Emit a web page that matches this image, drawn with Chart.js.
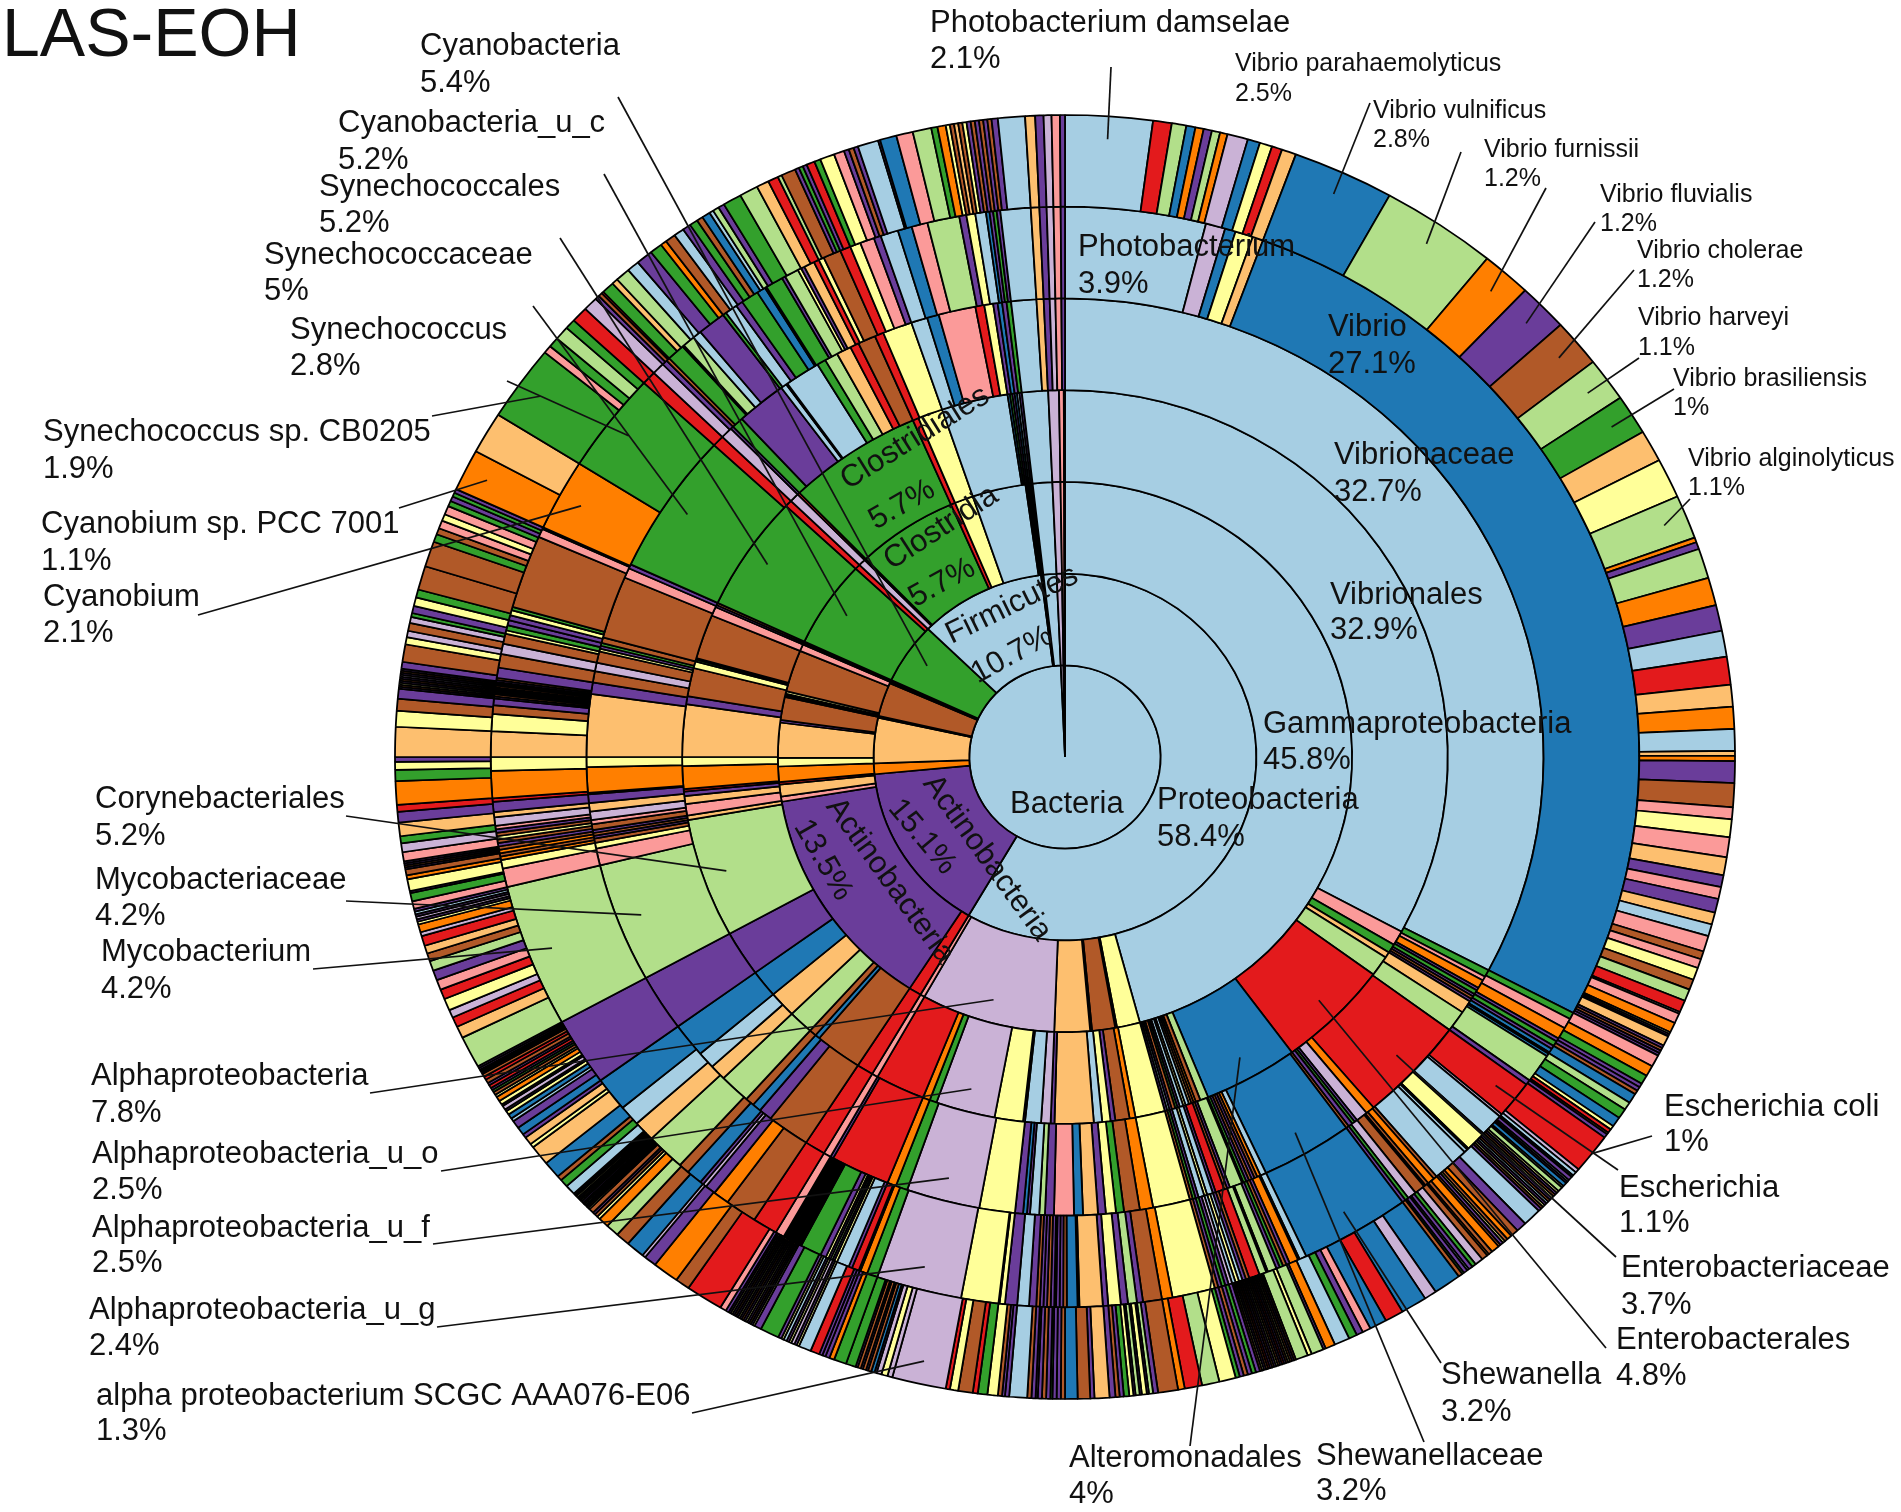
<!DOCTYPE html>
<html>
<head>
<meta charset="utf-8">
<title>LAS-EOH</title>
<script src="https://cdn.jsdelivr.net/npm/chart.js@4"></script>
<style>
  html, body { margin: 0; background: #fff; }
  canvas { display: block; }
</style>
</head>
<body>
<canvas id="sunburst" width="1901" height="1512"></canvas>
<script>
// percent of reads per slice, clockwise from the top, one list per taxonomic rank
const rootValues = [99.3, 0.45, 0.25];
const rootColors = 'alp';

const phylumValues = [58.4, 15.1, 0.95, 4, 0.05, 0.05, 0.05, 3, 0.15, 0.05, 0.1, 5.4, 10.7, 0.05, 0.05, 0.05, 0.05, 1.1, 0.45, 0.2, 0.05];
const phylumColors = 'aPOoPyPBpPBGabPGPalpP';

const classValues = [
  45.8, 1.3, 0.1, 1.3, 0.1, 2, 7.55, 0.25, 0.7, 13.3, 0.3, 0.7, 0.15, 0.9, 0.5, 2.05, 0.15, 1.35,
  0.1, 0.1, 0.15, 2.45, 0.4, 0.05, 0.05, 0.1, 5.1, 0.3, 0.4, 0.1, 5.7, 0.25, 1.05, 3,
  0.1, 0.1, 0.1, 0.1, 1.1, 0.45, 0.2, 0.05
];
const classColors =
  'ayOByolprPporOyoPB' +
  'yGyBpGPPGrlrGrya' +
  'bPGPalpP';

const orderValues = [
  32.9, 0.65, 0.4, 0.25, 0.9, 4.8, 4, 0.35, 0.2, 0.1, 0.1, 0.1, 0.15, 0.1, 0.15, 0.1, 0.1, 0.15, 0.1, 0.1, 0.1,
  1.25, 0.25, 0.6, 0.2, 0.35, 0.35, 1.64, 0.16,
  0.4, 0.67, 0.08, 1.2, 2.5, 0.3, 0.3, 2.1, 0.25, 0.7, 2, 0.2, 0.3, 1.05, 1.15, 1.2, 2, 5.25,
  0.2, 0.5, 0.35, 0.2, 0.1, 1, 0.4, 2.3, 0.35, 1.25, 0.3, 0.08, 0.07, 1.95, 0.4, 0.1, 0.1,
  5.1, 0.3, 0.4, 0.1, 5.7, 0.25, 1.05, 2.8, 0.1, 0.1, 0.1, 0.1, 0.1, 0.1, 1.1, 0.45, 0.2, 0.05
];
const orderColors =
  'apGogrbgBOBoayaPGBPaP' +
  'yOBPyaoP' +
  'laPylGOrprBbBgobPg' +
  'opoPrOyoPByGPBpPB' +
  'GrlrGryabGPbaPalpP';

const familyValues = [
  32.7, 0.25, 0.15, 0.3, 0.1, 0.15, 0.1, 0.1, 0.1, 0.45, 0.75, 3.7, 0.3, 0.4, 0.1, 0.1, 0.15, 0.1,
  3.1, 0.2, 0.12, 0.1, 0.1, 0.1, 0.1, 0.1, 0.05, 0.43, 0.1, 0.1, 0.3, 0.1, 0.2, 0.1, 0.2, 0.1, 0.1, 0.1,
  1.25, 0.45, 0.53, 0.27, 0.34, 0.26, 0.5, 0.3, 0.67, 0.3, 0.19, 0.31, 0.1, 0.13, 0.27, 1.2, 2.48,
  0.4, 0.3, 2, 0.1, 0.25, 0.7, 1.45, 0.45, 0.3, 0.3, 1.05, 0.55, 0.6, 1.2, 2, 4.2,
  0.6, 0.2, 0.15, 0.1, 0.1, 0.1, 0.2, 0.15, 0.3, 0.3, 0.3, 0.05, 0.9, 0.35, 2.2, 0.4, 0.4, 0.3, 0.4,
  0.1, 0.1, 0.1, 0.2, 2.2, 0.35, 0.15,
  5, 0.4, 0.4, 0.1, 0.4, 1.7, 0.2, 0.05, 1.2, 0.3, 0.45, 0.5, 0.3, 0.6, 0.3, 1, 0.55, 0.4, 1.25, 0.3, 0.3,
  0.15, 0.15, 0.15, 0.15, 0.85, 0.24, 0.2, 0.19, 0.2, 0.12
];
const familyColors =
  'aGpOPGPBPogrOlPGPB' +
  'baOBPBPGPgPBrPayaPGB' +
  'yOBGyPobpPgaPbPyl' +
  'GOrPprBPbBgoabPg' +
  'pyBPBPBploPrOyoPBlB' +
  'yPGBBpP' +
  'GrlPGPayaGgorBryabpry' +
  'PbPGaoPlpP';

const genusValues = [
  3.95, 0.55, 0.3, 0.5, 0.3, 27.1,
  0.2, 0.3, 0.35, 0.1, 0.15, 0.1, 0.12, 0.05, 0.08, 0.85, 0.15, 1.1,
  0.08, 0.67, 0.05, 0.55, 0.05, 0.1, 1.05,
  0.1, 0.2, 0.1, 0.05, 0.3, 0.25, 0.1, 0.1,
  3.1, 0.2, 0.05, 0.25, 0.1, 0.1, 0.1, 0.1, 0.25, 0.05, 0.2, 0.3,
  0.1, 0.1, 0.1, 0.1, 0.1, 0.1, 0.1, 0.1, 0.1, 0.1,
  1.2, 0.3, 0.53, 0.17, 0.25, 0.2, 0.35, 0.15, 0.65, 0.05, 0.3, 0.1, 0.1, 0.1, 0.05,
  0.1, 0.1, 0.1, 0.1, 0.1, 0.2, 0.33, 0.34, 0.15, 0.03, 1.05, 2.4,
  0.3, 0.2, 0.05, 0.2, 0.1, 0.35, 0.08, 0.06, 0.06, 0.06, 0.08, 0.16, 0.6,
  0.05, 0.05, 0.05, 0.05, 0.05, 0.05, 0.05, 0.05, 0.05, 0.05, 0.05,
  0.25, 0.7, 0.9, 0.45, 0.3, 0.1, 0.1, 0.45, 0.3, 1.1, 0.6, 0.6, 1, 2, 4.2,
  0.55, 0.25, 0.1, 0.1, 0.1, 0.1, 0.1, 0.1, 0.1, 0.1, 0.1, 0.1, 0.25, 0.15, 0.3, 0.1, 0.8, 0.4, 0.75, 0.5, 0.25, 0.2,
  0.06, 0.06, 0.05, 0.05, 0.05, 0.05, 0.06, 0.05, 0.05, 0.06, 0.06,
  0.3, 0.4, 0.3, 0.3, 0.1, 0.15, 0.15, 0.15, 0.15, 0.1, 2.15, 0.25, 0.05,
  2.1, 2.95, 0.4,
  0.35, 0.15, 0.1, 0.5, 0.05, 0.35, 0.25, 0.8, 0.1, 0.35, 0.2, 0.5, 0.25, 0.05, 0.5, 0.1, 0.4, 0.1, 0.1,
  0.3, 0.15, 0.15, 0.5, 0.3, 0.3, 0.4, 0.2, 0.5, 0.4, 0.45, 0.9, 0.2, 0.25, 0.3, 0.1, 0.1, 0.1, 0.1,
  0.85, 0.24, 0.2, 0.19, 0.2, 0.12
];
const genusColors =
  'albyob' +
  'GpOPGPbybgPr' +
  'laPyPaa' +
  'BOBPBlGP' +
  'baPOPBGPgPgr' +
  'BPayalPGPB' +
  'yOBPgPyPoPbBPPG' +
  'PBPPBPaPyPyl' +
  'GOPrPayPgPyPG' +
  'PBPBPBPBPyP' +
  'prBOPlPbBgoabPg' +
  'pyOBOBPByBPploPrOyoyBP' +
  'PBPGPPBPPPB' +
  'PBlByGPPyGBpP' +
  'OGr' +
  'lPBGygaPGaPGbaGPgyP' +
  'oryBrypPabpgPyabPGP' +
  'aoPlpP';

const speciesValues = [
  2.1, 0.45, 0.35, 0.22, 0.2, 0.2, 0.2, 0.18, 0.5, 0.3, 0.3, 0.25, 0.35,
  2.45, 2.8, 1.2, 1.2, 1.2, 1.1, 1, 0.8, 1, 1.1,
  0.12, 0.18, 0.75, 0.7, 0.65, 0.65, 0.7, 0.55, 0.55, 0.55, 0.12, 0.13, 0.55, 0.6,
  0.3, 0.45, 0.5, 0.45, 0.3, 0.3, 0.35, 0.3, 0.3, 0.4, 0.2, 0.23, 0.31, 0.26, 0.3, 0.3, 0.05, 0.25, 0.25,
  0.05, 0.05, 0.02, 0.25, 0.07, 0.07, 0.07, 0.07,
  0.3, 0.27, 0.23, 0.1, 0.1, 0.1, 0.25, 0.2, 0.25, 0.25, 0.1, 0.1, 0.05, 0.1, 1,
  0.1, 0.1, 0.05, 0.1, 0.05, 0.05, 0.1, 0.05,
  0.12, 0.06, 0.06, 0.06, 0.06, 0.06, 0.06, 0.06, 0.06, 0.06, 0.06, 0.08,
  0.45, 0.25, 0.2, 0.12, 0.08, 0.06, 0.08, 0.06,
  0.2, 0.1, 0.05, 0.15, 0.2, 0.1, 0.1, 0.05, 0.1, 0.05, 0.1,
  0.67, 0.3, 0.63, 0.45, 0.42, 0.2, 0.16, 0.2, 0.37, 0.24, 0.06, 0.3, 0.1, 0.3,
  0.05, 0.05, 0.05, 0.05, 0.05, 0.05, 0.05, 0.05, 0.05, 0.05, 0.05, 0.05, 0.05, 0.05, 0.05, 0.05, 0.05, 0.05,
  0.1, 0.1, 0.1, 0.1, 0.1, 0.1,
  0.4, 0.42, 0.42, 0.16, 0.48, 0.12, 0.1, 0.05, 0.12, 0.05, 0.1, 0.05, 0.1, 0.13,
  0.1, 0.1, 0.14, 0.36, 0.1, 0.3, 0.3, 0.1, 0.1, 0.1, 0.05, 0.1, 0.1, 0.1, 0.05, 0.1, 0.1,
  0.43, 0.1, 0.07, 0.1, 0.25, 0.23, 0.12, 0.35, 0.2, 0.1,
  1.3, 0.12, 0.15, 0.12, 0.05, 0.08, 0.08, 0.05, 0.08, 0.05, 0.08, 0.05, 0.24,
  0.3, 0.12, 0.1, 0.08, 0.08, 0.22, 0.3, 0.06, 0.06, 0.08, 0.06, 0.06, 0.08, 0.06, 0.08, 0.46, 0.17,
  0.05, 0.05, 0.05, 0.05, 0.05, 0.05, 0.05, 0.05, 0.05, 0.05, 0.05, 0.05, 0.05, 0.05,
  0.08, 0.15, 0.9, 0.35, 0.63, 0.3, 0.08, 0.45, 0.34,
  0.32, 0.25, 0.08, 0.08, 0.06, 0.12,
  0.045, 0.045, 0.045, 0.045, 0.045, 0.045, 0.045, 0.045, 0.045, 0.045, 0.045, 0.045,
  0.25, 0.2, 0.12, 0.43, 0.5, 0.1, 0.2, 0.1,
  0.2, 0.2, 0.08, 0.12, 0.1, 0.05, 0.1, 0.05, 0.1,
  0.12, 0.06, 0.08, 0.06, 0.06, 0.08, 0.06, 0.1, 0.08, 0.08, 0.04, 0.04, 0.04, 0.05, 0.05,
  0.8, 0.3, 0.25, 0.2, 0.3, 0.25, 0.25, 0.25, 0.25, 0.2, 0.2, 0.25, 0.1, 0.2,
  0.07, 0.06, 0.07, 0.06, 0.07, 0.07,
  0.19, 0.21, 0.05, 0.3, 0.1, 0.15, 0.05, 0.05, 0.05, 0.05, 0.23, 0.22, 0.18, 0.34, 0.27, 0.17,
  0.59, 0.28, 0.2, 0.12, 0.75, 0.4, 0.3, 0.25,
  0.05, 0.05, 0.05, 0.05, 0.05, 0.05, 0.05, 0.05, 0.05, 0.05,
  0.17, 0.44, 0.18, 0.16, 0.2, 0.15, 0.1, 0.18, 0.22, 0.2, 0.6, 0.64, 0.2, 0.16, 0.2, 0.17, 0.22, 0.14, 0.12, 0.1, 0.1,
  1.05, 1.05, 1.9, 0.2, 0.25, 0.35, 0.25, 0.4,
  0.35, 0.1, 0.1, 0.05, 0.3, 0.15, 0.35, 0.3, 0.4, 0.3, 0.15, 0.25, 0.25, 0.2, 0.2, 0.15, 0.2, 0.1, 0.15, 0.15, 0.45,
  0.45, 0.3, 0.25, 0.1, 0.35, 0.1, 0.1, 0.1, 0.2, 0.15, 0.35, 0.25, 0.12, 0.12, 0.11, 0.5, 0.05, 0.4, 0.4, 0.45, 0.15,
  0.2, 0.1, 0.1, 0.1, 0.1, 0.1, 0.1, 0.1, 0.1, 0.1, 0.1, 0.1, 0.15,
  0.65, 0.24, 0.2, 0.19, 0.2, 0.12
];
const speciesColors =
  'argbOPgOlbyro' +
  'bgOPBgGoyg' +
  'OPgOParoOaoOPB' +
  'pypoPpPoapBpyBgrlpO' +
  'yPaoPBPP' +
  'pOGPPBbgGbyrBPr' +
  'labPaPby' +
  'gyPByPBaPyBP' +
  'aPBOByPB' +
  'OBOBlGPaPGB' +
  'blbrbpPGaOPgyg' +
  'BPByBPrPByPBPrBPyB' +
  'PGPBPG' +
  'ygrOBPgPyPgPyG' +
  'PBPoPBbBPPGPBPPPB' +
  'aPPByGrByr' +
  'llylPbBPBPBPG' +
  'GOPPPrayPlyPayPGP' +
  'yPBPyPBPyPBPyP' +
  'PprBOPlbB' +
  'gOyBPB' +
  'yBPyBPyBPyBP' +
  'aGBboyoP' +
  'bPabyPlPy' +
  'OyBGPrPBrBPBPPP' +
  'gorlyrpPgBorlO' +
  'yPlPaP' +
  'pGPyOBPBPPplGoPr' +
  'OGyPoyBP' +
  'PByPBPlPBP' +
  'PBylBlGPyGBBGBpypGPGP' +
  'OoGpGgGr' +
  'lPBrGogaPGOBaPGBbagPG' +
  'gorgBPGPrGypPBPaPbpgG' +
  'OyBoByPBPBPBP' +
  'aoPlpP';

const palette = {
  a: '#a6cee3', b: '#1f78b4', g: '#b2df8a', G: '#33a02c', p: '#fb9a99', r: '#e31a1c',
  o: '#fdbf6f', O: '#ff7f00', l: '#cab2d6', P: '#6a3d9a', y: '#ffff99', B: '#b15928'
};

// outermost ring first, the library stacks rings in dataset order
const ringValues = [speciesValues, genusValues, familyValues, orderValues, classValues, phylumValues, rootValues];
const ringColors = [speciesColors, genusColors, familyColors, orderColors, classColors, phylumColors, rootColors];

// labels with a leader line
const labelNames = [
  'Photobacterium damselae', 'Vibrio parahaemolyticus', 'Vibrio vulnificus', 'Vibrio furnissii', 'Vibrio fluvialis',
  'Vibrio cholerae', 'Vibrio harveyi', 'Vibrio brasiliensis', 'Vibrio alginolyticus',
  'Cyanobacteria', 'Cyanobacteria_u_c', 'Synechococcales', 'Synechococcaceae', 'Synechococcus',
  'Synechococcus sp. CB0205', 'Cyanobium sp. PCC 7001', 'Cyanobium',
  'Corynebacteriales', 'Mycobacteriaceae', 'Mycobacterium',
  'Alphaproteobacteria', 'Alphaproteobacteria_u_o', 'Alphaproteobacteria_u_f', 'Alphaproteobacteria_u_g',
  'alpha proteobacterium SCGC AAA076-E06',
  'Alteromonadales', 'Shewanellaceae', 'Shewanella', 'Enterobacterales', 'Enterobacteriaceae', 'Escherichia', 'Escherichia coli'
];
const labelPercents = [
  '2.1%', '2.5%', '2.8%', '1.2%', '1.2%', '1.2%', '1.1%', '1%', '1.1%',
  '5.4%', '5.2%', '5.2%', '5%', '2.8%', '1.9%', '1.1%', '2.1%',
  '5.2%', '4.2%', '4.2%', '7.8%', '2.5%', '2.5%', '2.4%', '1.3%',
  '4%', '3.2%', '3.2%', '4.8%', '3.7%', '1.1%', '1%'
];
// ring counted from the centre, and a cumulative percent that falls inside the slice
const labelRings = [7, 7, 7, 7, 7, 7, 7, 7, 7, 2, 3, 4, 5, 6, 7, 7, 6, 4, 5, 6, 3, 4, 5, 6, 7, 4, 5, 6, 4, 5, 6, 7];
const labelAt = [1, 6.5, 9, 11.5, 12.5, 13.8, 15, 16, 19, 85, 85, 85, 85, 85, 85, 82.4, 83, 70, 69, 69, 54, 54, 54, 54, 53.5, 42, 41.5, 41.5, 37.5, 37, 35.7, 35.6];

// text x, name baseline, percent baseline, leader start x, leader start y, font size
const labelPlaces = [
  [930, 32, 68, 1111, 67, 31], [1235, 71, 101, 1370, 103, 25], [1373, 118, 147, 1461, 152, 25], [1484, 157, 186, 1546, 188, 25],
  [1600, 202, 231, 1595, 222, 25], [1637, 258, 287, 1634, 270, 25], [1638, 325, 355, 1639, 358, 25], [1673, 386, 415, 1674, 389, 25],
  [1688, 466, 495, 1690, 499, 25],
  [420, 55, 92, 618, 97, 31], [338, 132, 169, 604, 174, 31], [319, 196, 232, 560, 238, 31], [264, 264, 300, 533, 306, 31],
  [290, 339, 375, 507, 381, 31], [43, 441, 478, 432, 416, 31], [41, 533, 570, 399, 508, 31], [43, 606, 642, 198, 615, 31],
  [95, 808, 845, 346, 816, 31], [95, 889, 925, 346, 901, 31], [101, 961, 998, 313, 969, 31],
  [91, 1085, 1122, 370, 1093, 31], [92, 1163, 1199, 441, 1171, 31], [92, 1237, 1272, 433, 1244, 31], [89, 1319, 1355, 437, 1327, 31],
  [96, 1405, 1440, 692, 1413, 31],
  [1069, 1467, 1503, 1190, 1446, 31], [1316, 1465, 1500, 1424, 1442, 31], [1441, 1384, 1421, 1441, 1363, 31],
  [1616, 1349, 1385, 1606, 1348, 31], [1621, 1277, 1314, 1616, 1257, 31], [1619, 1197, 1232, 1618, 1170, 31], [1664, 1116, 1151, 1652, 1136, 31]
];
// how far across its ring the leader stops
const labelReach = [
  0.75, 0.75, 0.75, 0.75, 0.75, 0.75, 0.75, 0.75, 0.75, 0.75, 0.75, 0.75, 0.75, 0.75, 0.75, 0.75,
  0.75, 0.75, 0.75, 0.75, 0.75, 0.75, 0.75, 0.75, 0.75, 0.75, 0.75, 0.75, 0.75, 0.75, 0.75, 1
];

// labels sitting on the rings
const innerNames = ['Photobacterium', 'Vibrio', 'Vibrionaceae', 'Vibrionales', 'Gammaproteobacteria', 'Proteobacteria', 'Bacteria'];
const innerPercents = ['3.9%', '27.1%', '32.7%', '32.9%', '45.8%', '58.4%', ''];
const innerPlaces = [[1078, 256, 293], [1328, 336, 373], [1334, 464, 501], [1330, 604, 639], [1263, 733, 769], [1157, 809, 846], [1010, 813, 0]];

const turnedTexts = ['Clostridiales', '5.7%', 'Clostridia', '5.7%', 'Firmicutes', '10.7%', 'Actinobacteria', '15.1%', 'Actinobacteria', '13.5%'];
// centre x, centre y, degrees
const turnedPlaces = [
  [915, 438, -32], [902, 505, -30], [941, 528, -33], [942, 583, -29], [1012, 605, -26], [1012, 655, -29],
  [987, 858, 54], [922, 837, 50], [890, 881, 54], [823, 860, 60]
];

const centerX = 1065, centerY = 757, radius = 670, radiusY = 642;
const fontFamily = '"Liberation Sans", Arial, sans-serif';

function leaderEnd(chart, ring, at, reach) {
  const index = 7 - ring;
  const values = ringValues[index];
  let sum = 0;
  for (let i = 0; i < values.length; i++) {
    sum += values[i];
    if (sum >= at) {
      const arc = chart.getDatasetMeta(index).data[i];
      const angle = (arc.startAngle + arc.endAngle) / 2;
      const r = arc.innerRadius + reach * (arc.outerRadius - arc.innerRadius);
      return { x: arc.x + Math.cos(angle) * r, y: arc.y + Math.sin(angle) * r * radiusY / radius };
    }
  }
}

// the picture is slightly wider than it is tall, so the rings are squeezed vertically
const ringLabels = {
  id: 'ringLabels',
  beforeDatasetsDraw(chart) {
    const ctx = chart.ctx;
    ctx.save();
    ctx.translate(centerX, centerY);
    ctx.scale(1, radiusY / radius);
    ctx.translate(-centerX, -centerY);
  },
  afterDatasetsDraw(chart) {
    const ctx = chart.ctx;
    ctx.restore();
    ctx.save();
    ctx.strokeStyle = '#111';
    ctx.lineWidth = 1.7;
    labelNames.forEach((name, i) => {
      const end = leaderEnd(chart, labelRings[i], labelAt[i], labelReach[i]);
      ctx.beginPath();
      ctx.moveTo(labelPlaces[i][3], labelPlaces[i][4]);
      ctx.lineTo(end.x, end.y);
      ctx.stroke();
    });
    ctx.fillStyle = '#111';
    ctx.textAlign = 'left';
    ctx.textBaseline = 'alphabetic';
    labelNames.forEach((name, i) => {
      const place = labelPlaces[i];
      ctx.font = place[5] + 'px ' + fontFamily;
      ctx.fillText(name, place[0], place[1]);
      ctx.fillText(labelPercents[i], place[0], place[2]);
    });
    ctx.font = '31px ' + fontFamily;
    innerNames.forEach((name, i) => {
      ctx.fillText(name, innerPlaces[i][0], innerPlaces[i][1]);
      if (innerPercents[i]) ctx.fillText(innerPercents[i], innerPlaces[i][0], innerPlaces[i][2]);
    });
    ctx.font = '68px ' + fontFamily;
    ctx.fillText('LAS-EOH', 2, 56);
    ctx.font = '31px ' + fontFamily;
    ctx.textAlign = 'center';
    ctx.textBaseline = 'middle';
    turnedTexts.forEach((text, i) => {
      ctx.save();
      ctx.translate(turnedPlaces[i][0], turnedPlaces[i][1]);
      ctx.rotate(turnedPlaces[i][2] * Math.PI / 180);
      ctx.fillText(text, 0, 0);
      ctx.restore();
    });
    ctx.restore();
  }
};

new Chart(document.getElementById('sunburst'), {
  type: 'doughnut',
  data: {
    datasets: ringValues.map((values, i) => ({
      data: values,
      backgroundColor: ringColors[i].split('').map(k => palette[k]),
      borderColor: '#000',
      borderWidth: 1.8
    }))
  },
  options: {
    responsive: false,
    animation: false,
    events: [],
    cutout: 0,
    radius: radius,
    layout: { padding: { left: 2 * centerX - 1901, top: 2 * centerY - 1512 } },
    plugins: { legend: { display: false }, tooltip: { enabled: false } }
  },
  plugins: [ringLabels]
});
</script>
</body>
</html>
